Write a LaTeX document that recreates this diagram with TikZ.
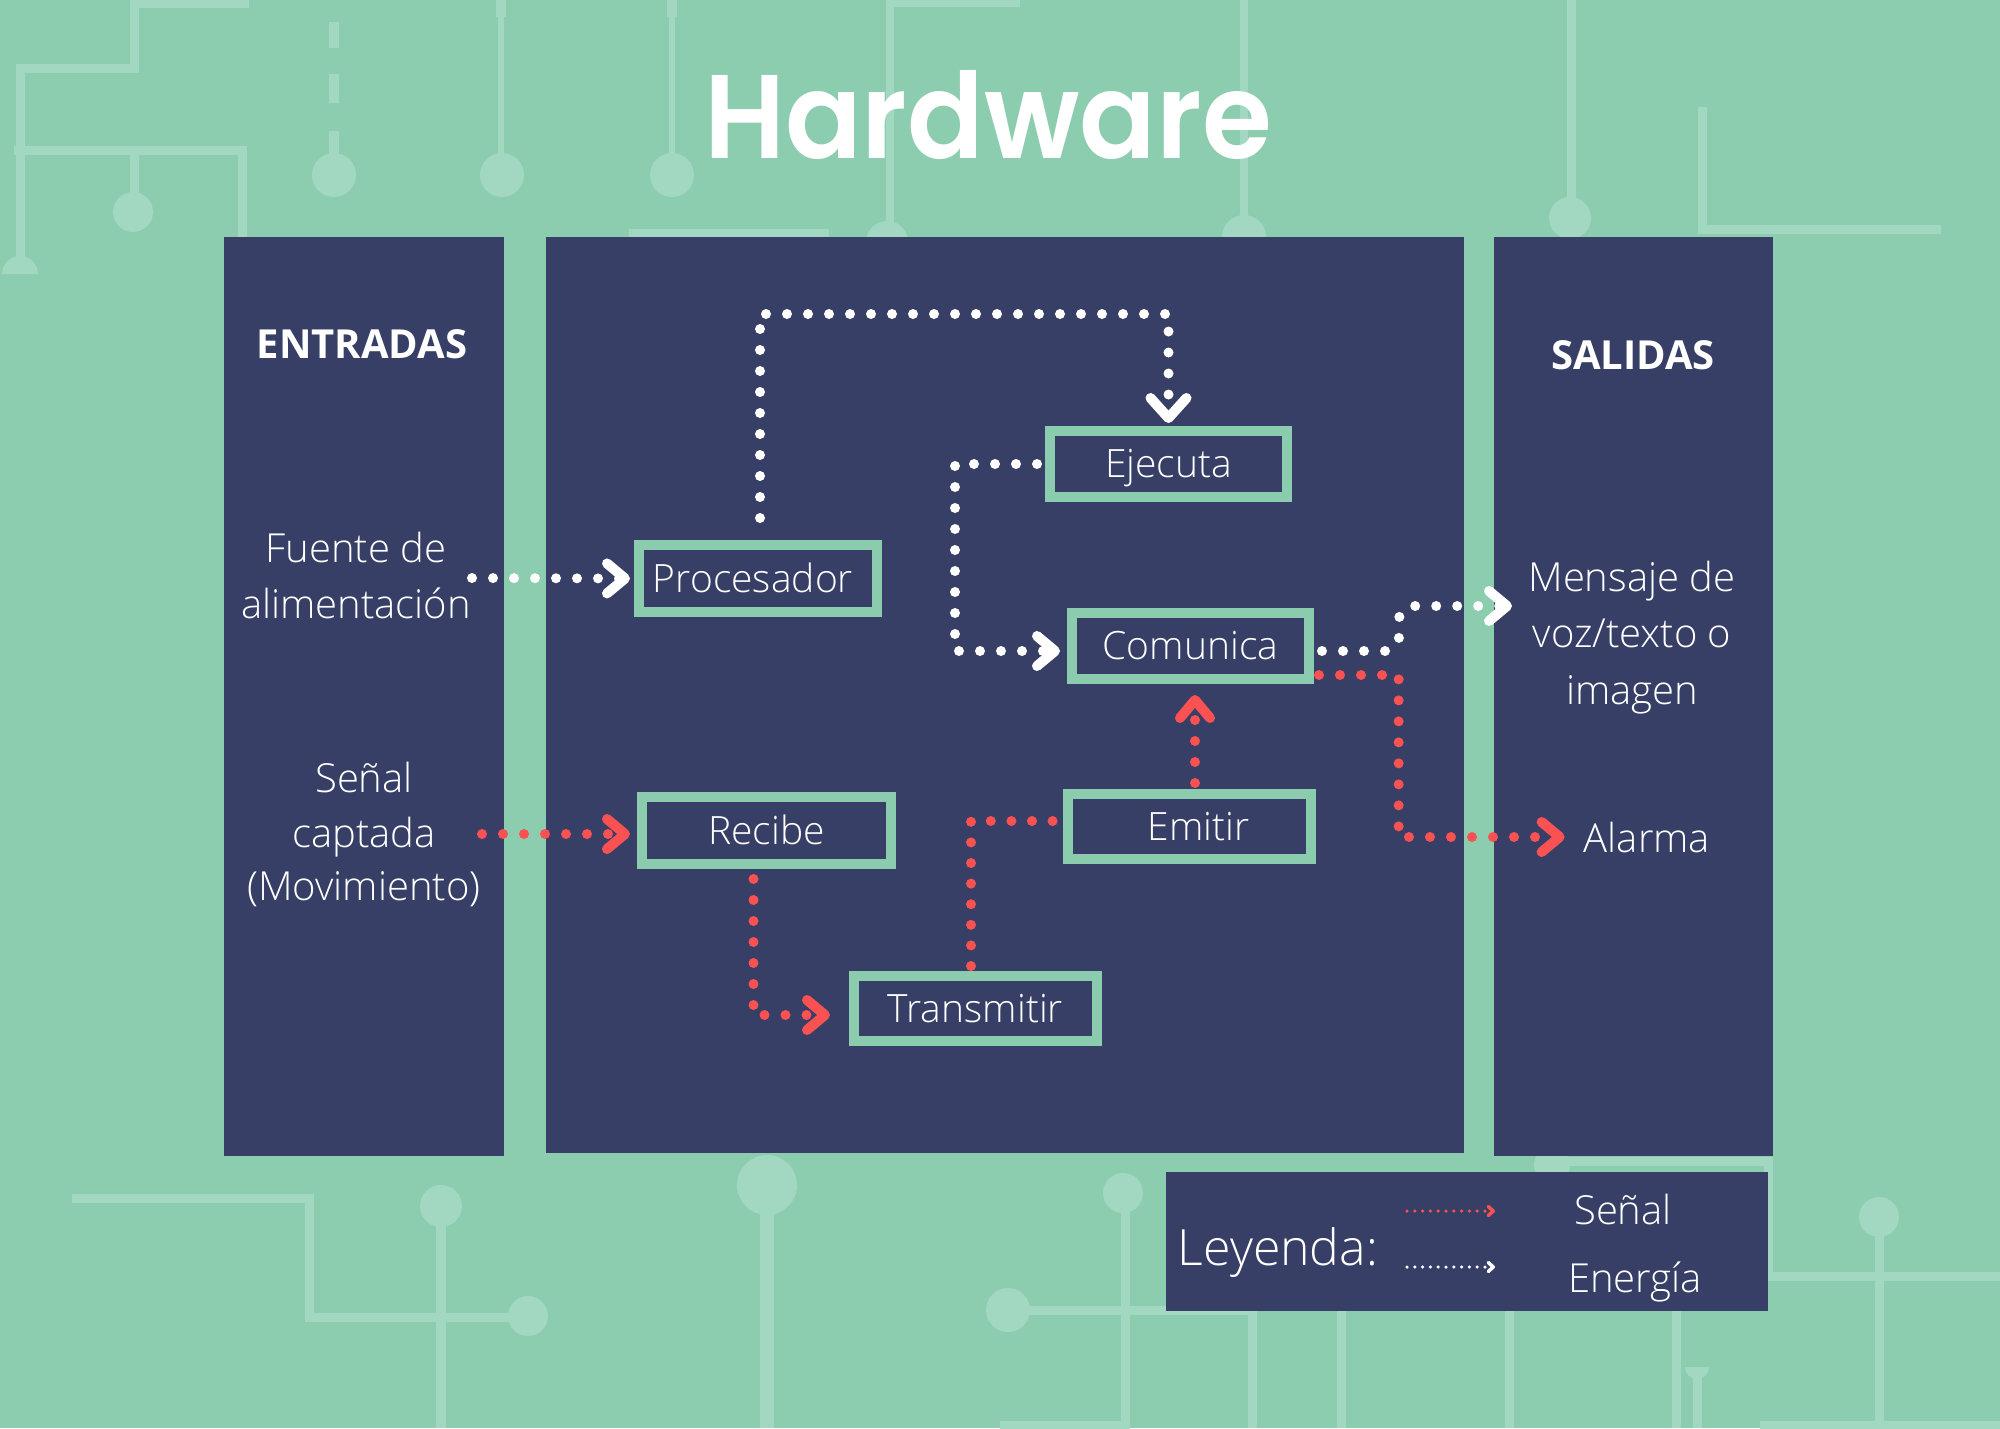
\documentclass[tikz,border=0pt]{standalone}
\usepackage{fontspec}
\setmainfont{Open Sans}[UprightFont=* Light, BoldFont=* Bold]
\newfontfamily\titlefont{Poppins}[BoldFont=* SemiBold]
\usetikzlibrary{arrows.meta,calc}
\definecolor{bg}{HTML}{8CCDB0}
\definecolor{navy}{HTML}{383F67}
\definecolor{boxgreen}{HTML}{8BCCAF}
\definecolor{sred}{HTML}{FA5252}
\definecolor{tracecol}{HTML}{A2D8C1}
\begin{document}
\begin{tikzpicture}[x=1pt,y=-1pt,
  trace/.style={draw=tracecol, line width=9pt},
  pad/.style={fill=tracecol},
  panel/.style={fill=navy, inner sep=0pt, outer sep=0pt, anchor=north west},
  blk/.style={draw=boxgreen, line width=10pt, fill=navy, inner sep=0pt, text=white,
    font=\fontsize{39}{46}\selectfont, text height=27pt, text depth=0pt},
  side/.style={text=white, inner sep=0pt, anchor=base, font=\fontsize{40}{56}\selectfont},
  head/.style={text=white, inner sep=0pt, anchor=base, font=\fontsize{40}{48}\selectfont\bfseries},
  wdots/.style={draw=white, line width=10pt, line cap=round, dash pattern=on 0pt off 21pt},
  rdots/.style={draw=sred, line width=10pt, line cap=round, dash pattern=on 0pt off 21pt},
  tip/.style={-{Straight Barb[length=18pt,width=30pt,round]}},
  bigtip/.style={-{Straight Barb[length=20pt,width=36pt,round]}},
  ltip/.style={-{Straight Barb[length=5pt,width=9pt,round]}},
  wsmall/.style={draw=white, line width=3.5pt, line cap=round, dash pattern=on 0pt off 7.8pt},
  rsmall/.style={draw=sred, line width=3.5pt, line cap=round, dash pattern=on 0pt off 7.8pt}]

% background
\useasboundingbox (0,0) rectangle (2000,1428);
\fill[bg] (0,0) rectangle (2000,1428);

% circuit traces (top)
\draw[trace] (249,3) -- (134,3) -- (134,68) -- (20,68) -- (20,266);
\fill[pad] (2,274) arc[start angle=180, end angle=360, radius=18] -- cycle;
\draw[trace] (14,150) -- (242,150) -- (242,240);
\draw[trace] (134,150) -- (134,212);
\fill[pad] (133,212) circle[radius=20];
\draw[trace, line width=10pt] (334,22) -- (334,48) (334,74) -- (334,103) (334,131) -- (334,160);
\fill[pad] (334,175) circle[radius=22];
\draw[trace, line width=6pt] (501,0) -- (501,175);
\draw[trace, line width=10pt] (501,0) -- (501,17);
\fill[pad] (502,175) circle[radius=22];
\draw[trace, line width=6pt] (672,0) -- (672,175);
\draw[trace, line width=10pt] (672,0) -- (672,17);
\fill[pad] (672,175) circle[radius=22];
\draw[trace, line width=8pt] (1020,3) -- (890,3) -- (890,230);
\fill[pad] (887,242) circle[radius=21];
\draw[trace, line width=8pt] (629,233) -- (829,233);
\draw[trace, line width=8pt] (1244,0) -- (1244,225);
\fill[pad] (1244,237) circle[radius=22];
\draw[trace, line width=9pt] (1571,0) -- (1571,215);
\fill[pad] (1570,218) circle[radius=21];
\draw[trace] (1702,107) -- (1702,229) -- (1941,229);

% circuit traces (bottom)
\draw[trace] (72,1198) -- (309,1198) -- (309,1317) -- (510,1317);
\fill[pad] (528,1316) circle[radius=20];
\draw[trace, line width=10pt] (441,1206) -- (441,1428);
\fill[pad] (441,1206) circle[radius=21];
\draw[trace, line width=14pt] (767,1185) -- (767,1428);
\fill[pad] (767,1185) circle[radius=30];
\draw[trace] (1008,1310) -- (1252,1310) -- (1252,1428);
\fill[pad] (1008,1310) circle[radius=22];
\draw[trace] (1125,1193) -- (1125,1425) -- (1000,1425);
\fill[pad] (1123,1193) circle[radius=20];
\draw[trace] (1341,1300) -- (1341,1428);
\draw[trace] (1509,1300) -- (1509,1428);
\draw[trace] (1676,1300) -- (1676,1428);
\draw[trace] (1697,1371) -- (1697,1428);
\fill[pad] (1685,1367) arc[start angle=180, end angle=0, radius=12] -- cycle;
\draw[trace] (1879,1217) -- (1879,1428);
\fill[pad] (1879,1217) circle[radius=20];
\draw[trace] (1552,1161) -- (1768,1161) -- (1768,1276) -- (2000,1276);
\fill[pad] (1552,1165) circle[radius=18];
\draw[trace] (1760,1425) -- (2000,1425);

% title
\node[text=white, inner sep=0pt, anchor=base, font=\fontsize{119}{130}\selectfont\titlefont\bfseries] (title) at (988,158) {\scalebox{0.95}[1]{Hardware}};

% panels
\node[panel, minimum width=280pt, minimum height=919pt] (pin) at (224,237) {};
\node[panel, minimum width=918pt, minimum height=916pt] (pmid) at (546,237) {};
\node[panel, minimum width=279pt, minimum height=919pt] (pout) at (1494,237) {};
\node[panel, minimum width=602pt, minimum height=139pt] (legend) at (1166,1172) {};

% panel texts
\node[head] (entr) at (362,358) {ENTRADAS};
\node[head] (sal) at (1633,369) {SALIDAS};
\node[side] (fu1) at (356,562) {Fuente de};
\node[side] (fu2) at (356,618) {alimentación};
\node[side] (se1) at (364,792) {Señal};
\node[side] (se2) at (364,847) {captada};
\node[side] (se3) at (364,900) {(Movimiento)};
\node[side] (me1) at (1632,591) {Mensaje de};
\node[side] (me2) at (1632,647) {voz/texto o};
\node[side] (me3) at (1632,704) {imagen};
\node[side] (alarma) at (1647,852) {Alarma};

% process boxes
\node[blk, minimum width=237pt, minimum height=66pt] (ejec) at (1168.5,464) {Ejecuta};
\node[blk, minimum width=238pt, minimum height=67pt] (proc) at (758,578.5) {\hspace*{-10pt}Procesador};
\node[blk, minimum width=237pt, minimum height=66pt] (comun) at (1190.5,646) {Comunica};
\node[blk, minimum width=249pt, minimum height=67pt] (recib) at (766.5,830.5) {Recibe};
\node[blk, minimum width=243pt, minimum height=65pt] (emit) at (1189.5,826.5) {\hspace*{18pt}Emitir};
\node[blk, minimum width=243pt, minimum height=65pt] (trans) at (975.5,1008.5) {Transmitir};

% free ends
\coordinate (fA) at (472,578);
\coordinate (sA) at (482,834);
\coordinate (mIn) at (1512,606);

% energy connectors (white)
\draw[wdots, tip, shorten >=4pt] (fA) -- (proc.west);
\draw[wdots, bigtip, shorten >=3pt] ($(proc.north)+(2,-22)$) |- ($(ejec.north)+(0,-112)$) -- (ejec.north);
\draw[wdots, tip, shorten >=7pt] ($(ejec.west)+(-8,0)$) -| ($(comun.west)+(-112,5)$) -- ($(comun.west)+(0,5)$);
\draw[wdots, tip, rounded corners=14pt] ($(comun.east)+(8,5)$) -| ($(mIn)+(-113,0)$) -- (mIn);

% signal connectors (red)
\draw[rdots, tip, shorten >=7pt] (sA) -- ($(recib.west)+(0,3.5)$);
\draw[rdots, tip, shorten >=19pt] ($(recib.south)+(-13,10)$) |- ($(trans.west)+(0,6.5)$);
\draw[rdots, dash pattern=on 0pt off 20.6pt] ($(trans.north)+(-4.5,-5)$) |- ($(emit.west)+(-8,-5.5)$);
\draw[rdots, tip, shorten >=11pt] ($(emit.north)+(5.5,-6)$) -- ($(comun.south)+(4.5,0)$);
\draw[rdots, tip, shorten >=19pt] ($(comun.east)+(5,29)$) -| ($(alarma.west)+(-185,0)$) -- (alarma.west);

% legend
\node[text=white, inner sep=0pt, anchor=base, font=\fontsize{50}{56}\selectfont] (ley) at (1278,1265) {Leyenda:};
\coordinate (lr1) at (1407,1211);
\coordinate (lr2) at (1495,1211);
\coordinate (lw1) at (1407,1267);
\coordinate (lw2) at (1495,1267);
\draw[rsmall, ltip] (lr1) -- (lr2);
\draw[wsmall, ltip] (lw1) -- (lw2);
\node[side, font=\fontsize{40}{48}\selectfont] (lsen) at (1623,1224) {Señal};
\node[side, font=\fontsize{40}{48}\selectfont] (lene) at (1635,1292) {Energía};
\end{tikzpicture}
\end{document}
